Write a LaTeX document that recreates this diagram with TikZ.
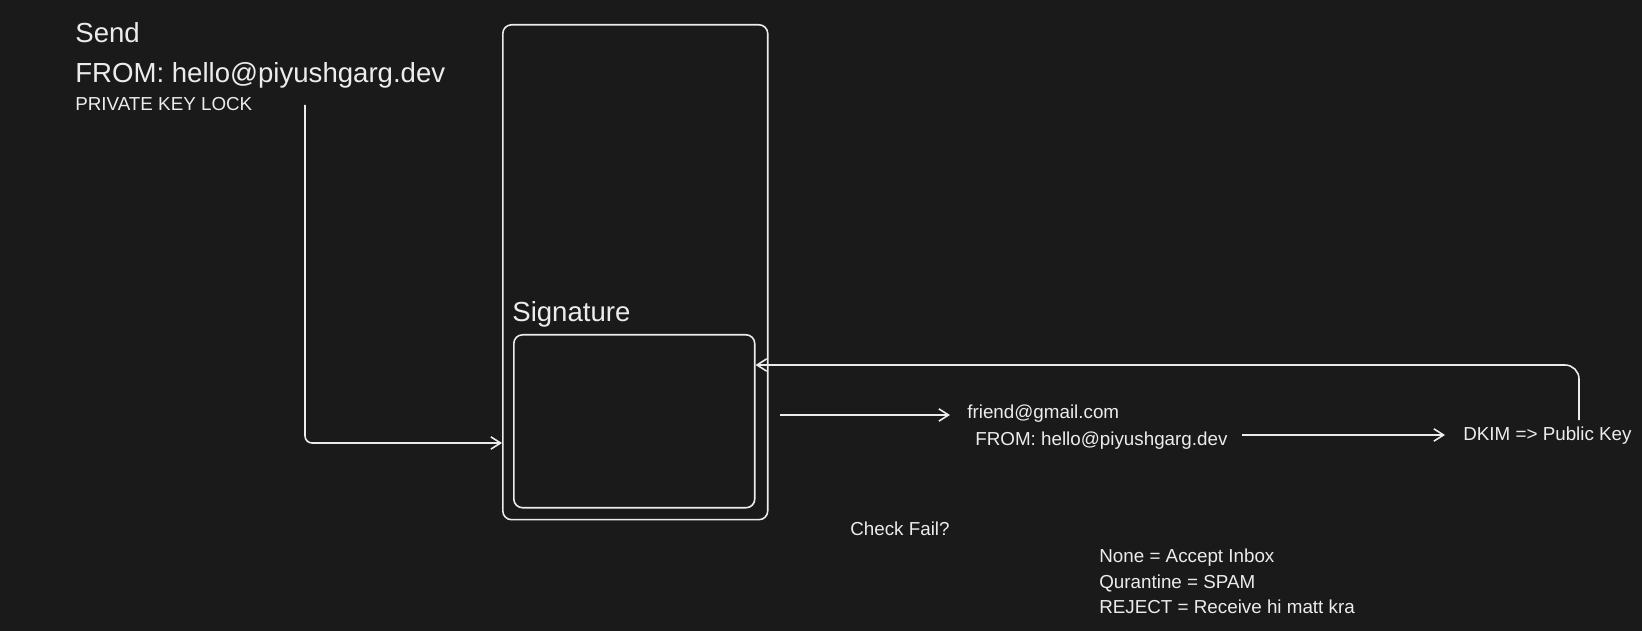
\documentclass[tikz,border=0pt]{standalone}
\usepackage{fontspec}
\setmainfont{Liberation Sans}
\usetikzlibrary{arrows.meta,calc}

\definecolor{board}{RGB}{26,26,26}
\definecolor{chalk}{RGB}{236,236,236}

\begin{document}
\begin{tikzpicture}[x=0.02cm,y=-0.02cm,
    big/.style={anchor=base west,inner sep=0pt,text=chalk,font=\fontsize{15.7}{18}\selectfont},
    small/.style={anchor=base west,inner sep=0pt,text=chalk,font=\fontsize{10.7}{13}\selectfont},
    box/.style={draw=chalk,line width=0.9pt,rounded corners=5pt,inner sep=0pt,anchor=north west},
    arr/.style={draw=chalk,line width=0.9pt,-{Straight Barb[length=5.5pt,width=7pt]}}]
        \fill[board] (0,0) rectangle (1642,631);

        % sender side
        \node[big] (send) at (75,43) {Send};
        \node[big] (from) at (75,83) {FROM: hello@piyushgarg.dev};
        \node[small] (lock) at (75,111) {PRIVATE KEY LOCK};

        % mail with signature
        \node[box,minimum width=5.3cm,minimum height=9.9cm] (mail) at (502,24) {};
        \node[big] (siglabel) at (512,321) {Signature};
        \node[box,minimum width=4.82cm,minimum height=3.46cm] (sig) at (513,334) {};

        % receiver side
        \node[small] (friend) at (967,418) {friend@gmail.com};
        \node[small] (fromto) at (975,445) {FROM: hello@piyushgarg.dev};
        \node[small] (dkim) at (1463,440) {DKIM => Public Key};

        \node[small] (check) at (850,535) {Check Fail?};
        \node[small] (none) at (1099,562) {None = Accept Inbox};
        \node[small] (quar) at (1099,588) {Qurantine = SPAM};
        \node[small] (reject) at (1099,613) {REJECT = Receive hi matt kra};

        \coordinate (lockend) at (305,105);
        \coordinate (mailin) at (mail.west |- 0,443);
        \coordinate (mailout) at (780,415);
        \coordinate (dkout) at (1242,435);
        \coordinate (keyup) at (1579,420);

        \draw[arr,rounded corners=4pt] (lockend) |- (mailin);
        \draw[arr,shorten >=0.34cm] (mailout) -- (friend.west |- mailout);
        \draw[arr,shorten >=0.36cm] (dkout) -- (dkim.west |- dkout);
        \draw[arr,rounded corners=8pt] (keyup) |- (sig.east |- 0,365);
\end{tikzpicture}
\end{document}
